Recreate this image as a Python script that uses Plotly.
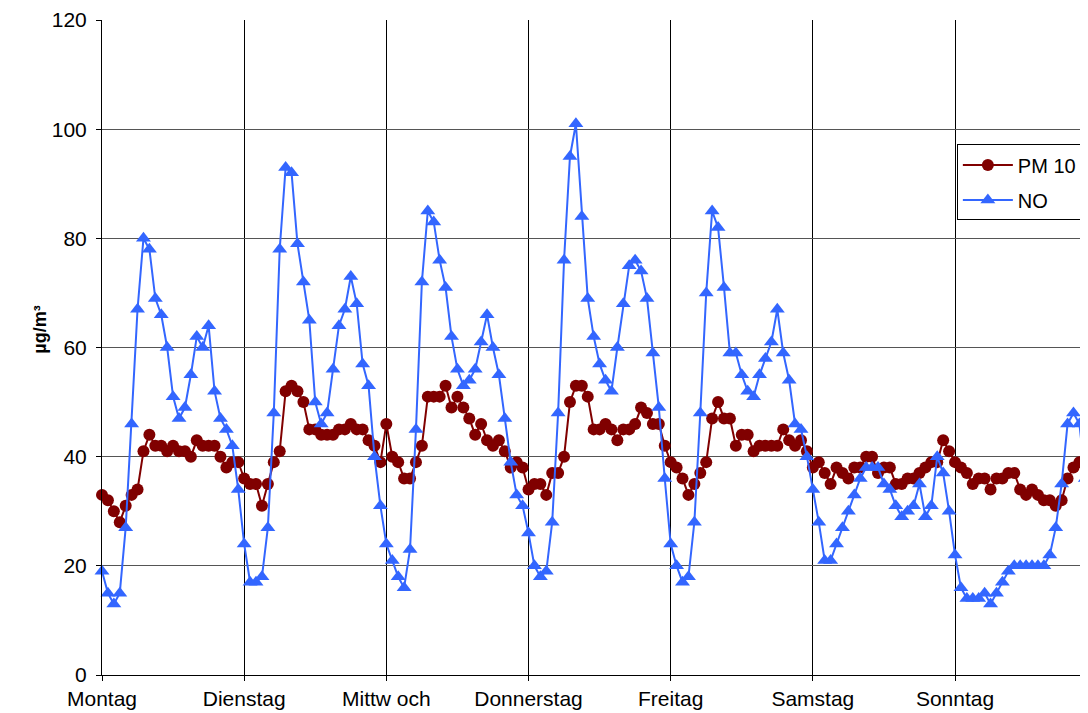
import plotly.graph_objects as go

days = ["Montag", "Dienstag", "Mittw och", "Donnerstag", "Freitag", "Samstag", "Sonntag"]
hours_per_day = 24

# PM 10 hourly values (µg/m³)
pm10_mo = [33, 32, 30, 28, 31, 33, 34, 41, 44, 42, 42, 41, 42, 41, 41, 40, 43, 42, 42, 42, 40, 38, 39, 39]
pm10_di = [36, 35, 35, 31, 35, 39, 41, 52, 53, 52, 50, 45, 45, 44, 44, 44, 45, 45, 46, 45, 45, 43, 42, 39]
pm10_mi = [46, 40, 39, 36, 36, 39, 42, 51, 51, 51, 53, 49, 51, 49, 47, 44, 46, 43, 42, 43, 41, 38, 39, 38]
pm10_do = [34, 35, 35, 33, 37, 37, 40, 50, 53, 53, 51, 45, 45, 46, 45, 43, 45, 45, 46, 49, 48, 46, 46, 42]
pm10_fr = [39, 38, 36, 33, 35, 37, 39, 47, 50, 47, 47, 42, 44, 44, 41, 42, 42, 42, 42, 45, 43, 42, 43, 41]
pm10_sa = [38, 39, 37, 35, 38, 37, 36, 38, 38, 40, 40, 37, 38, 38, 35, 35, 36, 36, 37, 38, 39, 39, 43, 41]
pm10_so = [39, 38, 37, 35, 36, 36, 34, 36, 36, 37, 37, 34, 33, 34, 33, 32, 32, 31, 32, 36, 38, 39, 39, 39]

# NO hourly values (µg/m³)
no_mo = [19, 15, 13, 15, 27, 46, 67, 80, 78, 69, 66, 60, 51, 47, 49, 55, 62, 60, 64, 52, 47, 45, 42, 34]
no_di = [24, 17, 17, 18, 27, 48, 78, 93, 92, 79, 72, 65, 50, 46, 48, 56, 64, 67, 73, 68, 57, 53, 40, 31]
no_mi = [24, 21, 18, 16, 23, 45, 72, 85, 83, 76, 71, 62, 56, 53, 54, 56, 61, 66, 60, 55, 47, 39, 33, 31]
no_do = [26, 20, 18, 19, 28, 48, 76, 95, 101, 84, 69, 62, 57, 54, 52, 60, 68, 75, 76, 74, 69, 59, 49, 36]
no_fr = [24, 20, 17, 18, 28, 48, 70, 85, 82, 71, 59, 59, 55, 52, 51, 55, 58, 61, 67, 59, 54, 46, 45, 40]
no_sa = [34, 28, 21, 21, 24, 27, 30, 33, 36, 38, 38, 38, 35, 34, 31, 29, 30, 31, 35, 29, 31, 40, 37, 30]
no_so = [22, 16, 14, 14, 14, 15, 13, 15, 17, 19, 20, 20, 20, 20, 20, 20, 22, 27, 35, 46, 48, 46, 36, 24]

pm10 = pm10_mo + pm10_di + pm10_mi + pm10_do + pm10_fr + pm10_sa + pm10_so
no = no_mo + no_di + no_mi + no_do + no_fr + no_sa + no_so
hours = list(range(len(pm10)))
day_ticks = [i * hours_per_day for i in range(len(days))]

FONT = "Arial, 'Liberation Sans', sans-serif"

fig = go.Figure()
fig.add_trace(go.Scatter(
    x=hours, y=pm10, name="PM 10", mode="lines+markers", legendgroup="pm10",
    line=dict(color="#800000", width=2),
    marker=dict(symbol="circle", size=12, color="#800000"),
    cliponaxis=False,
))
fig.add_trace(go.Scatter(
    x=hours, y=no, name="NO", mode="lines+markers", legendgroup="no",
    line=dict(color="#3366FF", width=2),
    marker=dict(symbol="triangle-up", size=13, color="#3366FF"),
    cliponaxis=False,
))

# the page body adds an 8px offset, so the figure is 8px smaller on each side
fig.update_layout(
    width=1080, height=705,
    margin=dict(l=94, r=0, t=12, b=38, autoexpand=False),
    paper_bgcolor="white", plot_bgcolor="white",
    font=dict(family=FONT, size=21, color="black"),
    showlegend=True,
    legend=dict(
        x=0.867, y=0.81, xanchor="left", yanchor="top",
        bgcolor="white", bordercolor="black", borderwidth=1,
        font=dict(family=FONT, size=20, color="black"),
        itemwidth=50, traceorder="grouped", tracegroupgap=6,
    ),
    annotations=[dict(
        text="<b>µg/m³</b>", textangle=-90, showarrow=False,
        xref="paper", yref="paper", x=-0.063, y=0.527,
        xanchor="center", yanchor="middle",
        font=dict(family=FONT, size=18, color="black"),
    )],
)
fig.update_xaxes(
    range=[0, 166.45],
    tickmode="array", tickvals=day_ticks, ticktext=days,
    showgrid=True, gridcolor="black", gridwidth=1,
    showline=True, linecolor="black", linewidth=1,
    ticks="outside", ticklen=5, tickcolor="black",
    zeroline=False,
)
fig.update_yaxes(
    range=[0, 120], tick0=0, dtick=20,
    showgrid=True, gridcolor="#555555", gridwidth=1,
    showline=True, linecolor="black", linewidth=1,
    ticks="outside", ticklen=5, tickcolor="black",
    ticklabelstandoff=5,
    zeroline=False,
)

fig.write_html("out.html")
